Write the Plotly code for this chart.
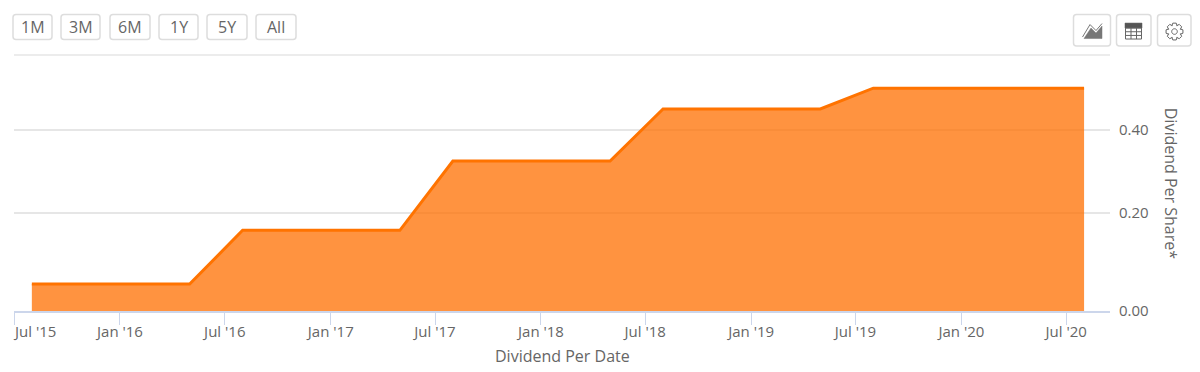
import math
import numpy as np
import plotly.graph_objects as go

# Data
dates = ["2015-08-01", "2016-05-01", "2016-08-01", "2017-05-01", "2017-08-01",
         "2018-05-01", "2018-08-01", "2019-05-01", "2019-08-01", "2020-08-01"]
dividend = [0.055, 0.055, 0.165, 0.165, 0.325, 0.325, 0.45, 0.45, 0.50, 0.50]
x_tick_dates = ["2015-07-01", "2016-01-01", "2016-07-01", "2017-01-01", "2017-07-01", "2018-01-01",
                "2018-07-01", "2019-01-01", "2019-07-01", "2020-01-01", "2020-07-01"]
x_tick_labels = ["", "Jan '16", "Jul '16", "Jan '17", "Jul '17", "Jan '18",
                 "Jul '18", "Jan '19", "Jul '19", "Jan '20", "Jul '20"]
y_tick_values = [0.0, 0.2, 0.4]
y_tick_labels = ["0.00", "0.20", "0.40"]
range_buttons = ["1M", "3M", "6M", "1Y", "5Y", "All"]

# The reference's value axis is not evenly spaced: 0-0.2 takes more height than 0.2-0.4.
def axis_pos(v):
    return np.interp(v, [0, 0.2, 1.0], [0, 0.2, 0.2 + 0.8 * 0.852])

W, H = 1200, 372
L, R, T, B = 14, 1110, 55, 311.5
TEXT = "#666666"
FONT = "Open Sans"

def px(x):
    return (x - L) / (R - L)

def py(y):
    return (B - y) / (B - T)

def rounded(x0, y0, x1, y1, r=3):
    return (f"M{px(x0+r)},{py(y0)} L{px(x1-r)},{py(y0)} Q{px(x1)},{py(y0)} {px(x1)},{py(y0+r)} "
            f"L{px(x1)},{py(y1-r)} Q{px(x1)},{py(y1)} {px(x1-r)},{py(y1)} "
            f"L{px(x0+r)},{py(y1)} Q{px(x0)},{py(y1)} {px(x0)},{py(y1-r)} "
            f"L{px(x0)},{py(y0+r)} Q{px(x0)},{py(y0)} {px(x0+r)},{py(y0)} Z")

def poly(points):
    return "M" + " L".join(f"{px(a)},{py(b)}" for a, b in points) + " Z"

def polyline(points):
    return "M" + " L".join(f"{px(a)},{py(b)}" for a, b in points)

shapes, annotations = [], []

def paper_shape(path, fill="rgba(0,0,0,0)", line="#dddddd", width=1.5):
    shapes.append(dict(type="path", xref="paper", yref="paper", path=path,
                       fillcolor=fill, line=dict(color=line, width=width), layer="above"))

button_boxes = [(13, 52), (61, 100), (110, 150), (159, 198), (207, 247), (256, 296)]
for name, (a, b) in zip(range_buttons, button_boxes):
    paper_shape(rounded(a, 14.5, b, 39.5))
    annotations.append(dict(text=name, xref="paper", yref="paper", x=px((a + b) / 2), y=py(27),
                            showarrow=False, xanchor="center", yanchor="middle",
                            font=dict(family=FONT, size=16, color=TEXT)))

for a, b in [(1073.5, 1110.5), (1116.5, 1151), (1157.5, 1191)]:
    paper_shape(rounded(a, 14.5, b, 46))

# chart-type icon
paper_shape(poly([(1084, 38.5), (1091, 28), (1096, 33), (1102, 26), (1102, 38.5)]), fill="#777777", line="#777777", width=0.5)
paper_shape(polyline([(1082.5, 37), (1090, 24.5), (1096, 30.5), (1102, 23.5)]), line="#777777", width=1)
# table icon
paper_shape(poly([(1125, 23), (1142, 23), (1142, 28), (1125, 28)]), fill="#555555", line="#555555", width=0.5)
paper_shape(poly([(1125.5, 28), (1141.5, 28), (1141.5, 39), (1125.5, 39)]), line="#666666", width=1)
for xv in (1131, 1136.5):
    paper_shape(f"M{px(xv)},{py(28)} L{px(xv)},{py(39)}", line="#666666", width=1)
for yv in (31.7, 35.4):
    paper_shape(f"M{px(1125.5)},{py(yv)} L{px(1141.5)},{py(yv)}", line="#666666", width=1)
# gear icon
cx, cy = 1174.5, 31.5
gear = []
for k in range(8):
    base = k * math.pi / 4
    for off, rad in [(-0.42, 6.3), (-0.2, 8.6), (0.2, 8.6), (0.42, 6.3)]:
        gear.append((cx + rad * math.cos(base + off), cy + rad * math.sin(base + off)))
paper_shape(poly(gear), line="#666666", width=1)
ring = [(cx + 2.8 * math.cos(t * math.pi / 8), cy + 2.8 * math.sin(t * math.pi / 8)) for t in range(16)]
paper_shape(poly(ring), line="#666666", width=1)

# top gridline of the plot frame
paper_shape(f"M{px(L)},{py(T)} L{px(R)},{py(T)}", line="#e6e6e6", width=1.5)

# first date label sits right of its tick in the reference
annotations.append(dict(text="Jul '15", xref="paper", yref="paper", x=px(14), y=py(332),
                        showarrow=False, xanchor="left", yanchor="middle", xshift=-3,
                        font=dict(family=FONT, size=15, color=TEXT)))
annotations.append(dict(text="Dividend Per Date", xref="paper", yref="paper", x=px(562), y=py(357),
                        showarrow=False, xanchor="center", yanchor="middle",
                        font=dict(family=FONT, size=16, color=TEXT)))
annotations.append(dict(text="Dividend Per Share*", xref="paper", yref="paper", x=px(1171), y=py(184),
                        showarrow=False, xanchor="center", yanchor="middle", textangle=90,
                        font=dict(family=FONT, size=16, color=TEXT)))

fig = go.Figure(go.Scatter(
    x=dates, y=axis_pos(dividend), customdata=dividend, mode="lines", fill="tozeroy",
    fillcolor="rgba(255,111,0,0.75)", line=dict(color="#ff7300", width=3, shape="linear"),
    hovertemplate="%{x}: %{customdata:.3f}<extra></extra>", name="Dividend Per Share*",
))

top = (B - T) / 490

fig.update_layout(
    width=W, height=H, autosize=False, showlegend=False,
    margin=dict(l=L, r=W - R, t=T, b=H - B, pad=0),
    paper_bgcolor="white", plot_bgcolor="white",
    font=dict(family=FONT, size=15, color=TEXT),
    shapes=shapes, annotations=annotations,
    xaxis=dict(
        type="date", range=["2015-07-01", "2020-09-15"], automargin=False,
        tickmode="array", tickvals=x_tick_dates, ticktext=x_tick_labels,
        ticks="outside", ticklen=12, tickwidth=1, tickcolor="#ccd6eb",
        showline=True, linecolor="#ccd6eb", linewidth=1.5, showgrid=False, zeroline=False,
        tickfont=dict(family=FONT, size=15, color=TEXT), tickangle=0, ticklabelstandoff=-6,
    ),
    yaxis=dict(
        side="right", range=[0, top], automargin=False,
        tickmode="array", tickvals=list(axis_pos(y_tick_values)), ticktext=y_tick_labels,
        ticks="", showgrid=True, gridcolor="#e6e6e6", gridwidth=1.5, zeroline=False, showline=False,
        tickfont=dict(family=FONT, size=15, color=TEXT), ticklabelstandoff=8,
    ),
)

fig.write_html("out.html", config={"displayModeBar": False},
               post_script="document.body.style.margin='0';")
